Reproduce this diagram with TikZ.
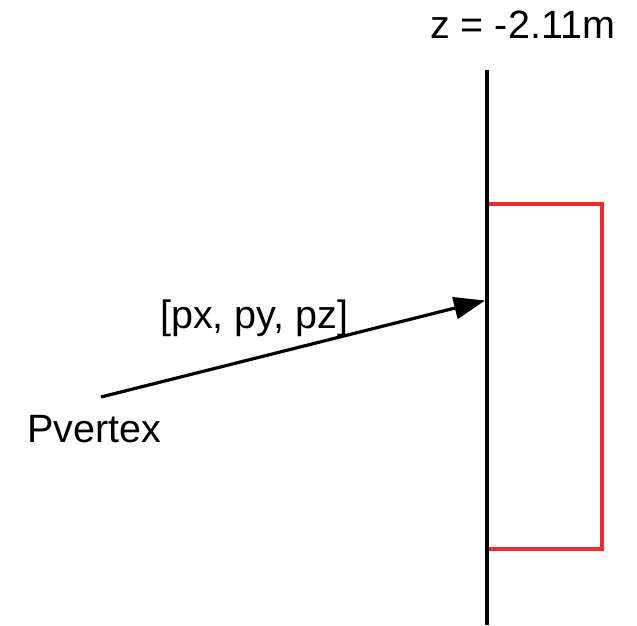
\documentclass[tikz,border=0pt]{standalone}
\usepackage{fontspec}
\setmainfont{Liberation Sans}
\usetikzlibrary{arrows.meta}
\definecolor{boxred}{RGB}{238,44,44}
\tikzset{
  lbl/.style={font=\fontsize{39.5}{42}\selectfont, inner sep=0pt, anchor=base west},
  plane/.style={line width=3.2pt, black},
  conn/.style={line width=3.2pt, black, -{Triangle[length=31pt,width=22pt]}},
  detbox/.style={line width=3.5pt, boxred},
}
\begin{document}
\begin{tikzpicture}[x=1pt,y=-1pt]
\useasboundingbox (0,0) rectangle (637,625);
\draw[detbox] (487,204) -- (602,204) -- (602,549) -- (487,549);
\coordinate (ptop) at (487,70);
\coordinate (pbot) at (487,625);
\draw[plane] (ptop) -- (pbot);
\coordinate (vtx) at (101,397);
\coordinate (hit) at (485,300.5);
\draw[conn] (vtx) -- (hit);
\node[lbl] (zlab) at (430,38) {z = -2.11m};
\node[lbl] (plab) at (160,328) {[px, py, pz]};
\node[lbl] (vlab) at (27,442) {Pvertex};
\end{tikzpicture}
\end{document}
